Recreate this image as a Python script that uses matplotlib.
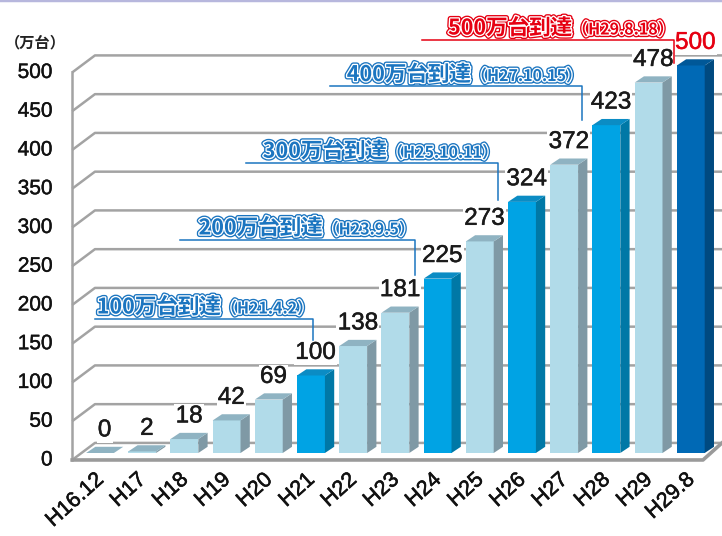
import matplotlib
matplotlib.use("Agg")
import matplotlib.pyplot as plt
import matplotlib.patheffects as pe
from matplotlib.patches import Polygon

plt.rcParams['font.family'] = ['Liberation Sans', 'Noto Sans CJK JP', 'DejaVu Sans']

# データ
years = ["H16.12", "H17", "H18", "H19", "H20", "H21", "H22", "H23",
         "H24", "H25", "H26", "H27", "H28", "H29", "H29.8"]
counts = [0, 2, 18, 42, 69, 100, 138, 181, 225, 273, 324, 372, 423, 478, 500]
# 0: 通常, 1: 到達年, 2: 最新
kinds = [0, 0, 0, 0, 0, 1, 0, 0, 1, 0, 1, 0, 1, 0, 2]

y_ticks = [0, 50, 100, 150, 200, 250, 300, 350, 400, 450, 500]

milestones = ["100万台到達", "200万台到達", "300万台到達", "400万台到達", "500万台到達"]
milestone_dates = ["（H21.4.2）", "（H23.9.5）", "（H25.10.11）", "（H27.10.15）", "（H29.8.18）"]
milestone_bar = [5, 8, 10, 12, 14]

# 色 (前面, 側面, 上面)
face_cols = [("#b1dbe9", "#7f99a5", "#8fb3c2"),
             ("#00a3e4", "#0078a6", "#0b8cc4"),
             ("#0069b5", "#004a80", "#005898")]
blue = "#1b75c0"
red = "#e60012"

fig = plt.figure(figsize=(7.22, 5.36), dpi=100)
ax = fig.add_axes([0, 0, 1, 1])
xmin, xmax = -2.37, 14.74
ymin, ymax = -107.1, 584.5
ax.set_xlim(xmin, xmax)
ax.set_ylim(ymin, ymax)
ax.axis("off")

# 奥行き
bw = 0.66          # 棒の幅
bdx, bdy = 0.22, 8  # 棒の奥行き
fx, bx = -0.66, -0.12   # 壁の前端・奥端
f_off, b_off = -9, 13   # 目盛線の前・奥のずれ

grid_c = "#a3a3a3"
for v in y_ticks:
    ax.plot([fx, bx, xmax], [v + f_off, v + b_off, v + b_off],
            color=grid_c, lw=1.8, zorder=1, solid_capstyle="butt")
    ax.text(-1.12, v + f_off, str(v), ha="right", va="center",
            fontsize=15, color="#111111",
            path_effects=[pe.withStroke(linewidth=0.3, foreground="#111111")])
ax.plot([fx, fx], [f_off, 500 + f_off], color=grid_c, lw=1.8, zorder=1)

# 床
floor_r = 14.29
ax.plot([fx, floor_r, xmax], [f_off, f_off, b_off], color="#9a9a9a", lw=2.6, zorder=2)

# 棒
for i, (v, k) in enumerate(zip(counts, kinds)):
    front, side, top = face_cols[k]
    x0 = i - bw / 2
    x1 = i + bw / 2
    if v > 0:
        ax.bar(i, v, width=bw, color=front, zorder=3, linewidth=0)
        ax.add_patch(Polygon([(x1, 0), (x1 + bdx, bdy), (x1 + bdx, v + bdy), (x1, v)],
                             closed=True, fc=side, ec="none", zorder=3))
    ax.add_patch(Polygon([(x0, v), (x1, v), (x1 + bdx, v + bdy), (x0 + bdx, v + bdy)],
                         closed=True, fc=top, ec="none", zorder=3))
    col = red if k == 2 else "#1a1a1a"
    ax.text(i + bdx / 2, v + bdy + 7, str(v), ha="center", va="bottom",
            fontsize=17.5, color=col, zorder=5,
            bbox=dict(boxstyle="square,pad=0.05", fc="white", ec="none"),
            path_effects=[pe.withStroke(linewidth=0.35, foreground=col)])
    ax.text(i + 0.02, -31, years[i], rotation=42, rotation_mode="anchor",
            ha="right", va="center", fontsize=15.5, color="#111111",
            path_effects=[pe.withStroke(linewidth=0.4, foreground="#111111")])

ax.text(-1.54, 530, "（万台）", ha="center", va="center", fontsize=11,
        fontweight="bold", family=["Noto Sans CJK JP"], color="#222222")

# 到達の注記
line_dx = [0.05, -0.54, -0.57, -0.58, -0.40]
line_y = [173, 275, 374, 473, 533]
line_bottom = [146, 230, 326, 430, 503]
line_left = [-0.12, 1.90, 3.46, 5.45, 7.63]

fig.canvas.draw()
rend = fig.canvas.get_renderer()
inv = ax.transData.inverted()
for n in range(len(milestones)):
    col = red if n == 4 else blue
    lx = milestone_bar[n] + line_dx[n]
    ax.plot([line_left[n], lx, lx], [line_y[n], line_y[n], line_bottom[n]],
            color=col, lw=1.1, zorder=6)
    eff = [pe.Stroke(linewidth=3.8, foreground=col), pe.Stroke(linewidth=1.9, foreground="white"),
           pe.Normal()]
    t2 = ax.text(lx, line_y[n] + 7, milestone_dates[n], ha="right", va="baseline",
                 fontsize=11.5, fontweight="bold", color=col, zorder=7,
                 family=["Noto Sans CJK JP"], path_effects=eff)
    bb = t2.get_window_extent(rend)
    left = inv.transform((bb.x0, bb.y0))[0]
    ax.text(left, line_y[n] + 7, milestones[n], ha="right", va="baseline",
            fontsize=15.5, fontweight="bold", color=col, zorder=7,
            family=["Noto Sans CJK JP"], path_effects=eff)

ax.axhline(ymax, color="#b7b7dd", lw=2.5, zorder=8)

fig.savefig("out.png", dpi=100)
